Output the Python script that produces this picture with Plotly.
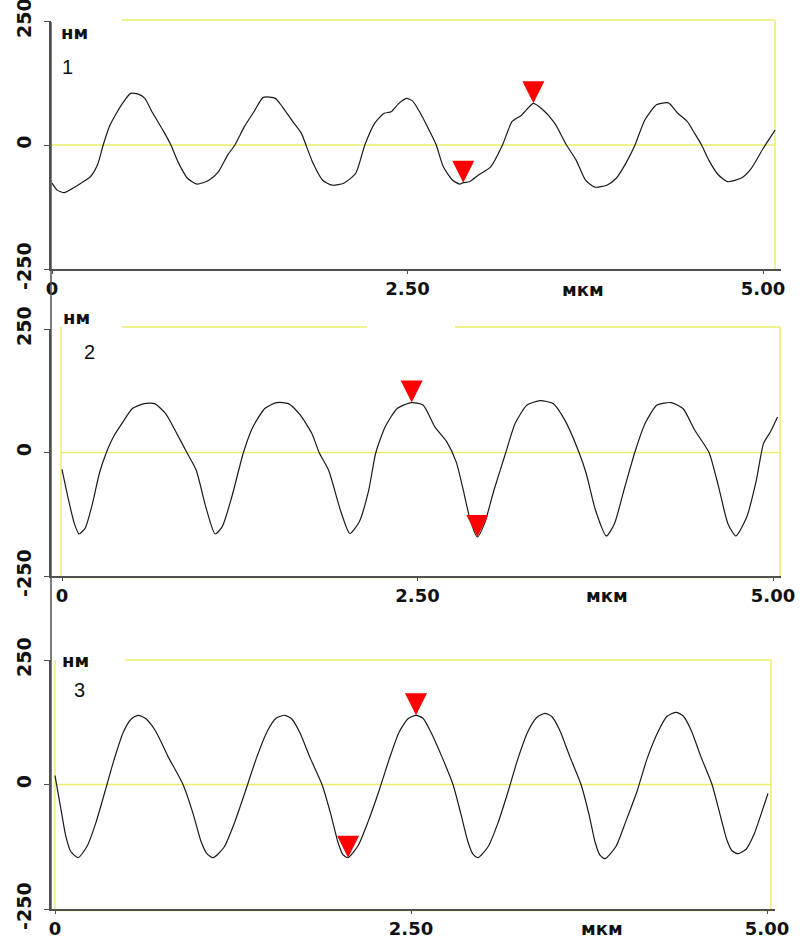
import plotly.graph_objects as go

# ---------------- data ----------------
# Panel 1 profile: position (µm) and height (nm)
x1 = [0.0, 0.036, 0.086, 0.136, 0.203, 0.27, 0.32, 0.36, 0.403, 0.453, 0.503, 0.553, 0.603, 0.653,
      0.703, 0.786, 0.836, 0.886, 0.953, 1.02, 1.103, 1.17, 1.236, 1.286, 1.353, 1.42, 1.486, 1.57,
      1.62, 1.686, 1.753, 1.786, 1.836, 1.903, 1.97, 2.052, 2.136, 2.2, 2.27, 2.336, 2.386, 2.436,
      2.492, 2.535, 2.585, 2.652, 2.702, 2.752, 2.818, 2.868, 2.892, 2.935, 3.002, 3.085, 3.168,
      3.235, 3.302, 3.385, 3.452, 3.535, 3.618, 3.685, 3.752, 3.818, 3.902, 3.968, 4.035, 4.1,
      4.168, 4.251, 4.335, 4.401, 4.468, 4.518, 4.568, 4.618, 4.685, 4.751, 4.851, 4.918, 5.001, 5.085]
y1 = [-77, -91, -96, -89, -77, -64, -40, 0, 37, 64, 87, 104, 103, 94,
      67, 27, 0, -34, -67, -79, -71, -54, -20, 0, 37, 67, 96, 94,
      77, 50, 24, 0, -37, -71, -81, -77, -57, 0, 44, 64, 67, 83,
      94, 89, 67, 30, 0, -44, -71, -79, -76, -74, -60, -44, 0,
      47, 60, 84, 71, 44, 0, -30, -71, -85, -81, -67, -37, 0,
      50, 81, 85, 64, 47, 24, 0, -30, -60, -74, -66, -47, -7, 30]
m1_x = [2.892, 3.385]
m1_y = [-76, 84]

# Panel 2 profile
x2 = [0.0, 0.046, 0.087, 0.12, 0.163, 0.213, 0.263, 0.312, 0.362, 0.429, 0.495, 0.578, 0.651, 0.728,
      0.795, 0.878, 0.944, 1.011, 1.077, 1.127, 1.194, 1.276, 1.343, 1.426, 1.509, 1.592, 1.675,
      1.758, 1.808, 1.875, 1.958, 2.024, 2.091, 2.157, 2.207, 2.273, 2.357, 2.456, 2.539, 2.622,
      2.705, 2.772, 2.822, 2.871, 2.921, 2.971, 3.038, 3.121, 3.187, 3.27, 3.363, 3.453, 3.537,
      3.636, 3.686, 3.752, 3.828, 3.885, 3.952, 4.028, 4.101, 4.184, 4.284, 4.367, 4.45, 4.55,
      4.617, 4.683, 4.739, 4.816, 4.883, 4.933, 4.982, 5.032]
y2 = [-34, -96, -144, -165, -153, -105, -42, 0, 32, 62, 89, 99, 99, 79,
      45, 0, -36, -110, -165, -150, -90, 0, 52, 89, 101, 99, 76,
      38, 0, -36, -117, -164, -140, -76, 0, 52, 89, 101, 96, 52,
      22, -19, -76, -137, -171, -144, -76, 0, 59, 96, 105, 99, 65,
      0, -42, -117, -169, -144, -76, 0, 59, 96, 101, 89, 45, 0,
      -69, -144, -169, -130, -56, 18, 42, 72]
m2_x = [2.459, 2.921]
m2_y = [101, -171]

# Panel 3 profile
x3 = [0.0, 0.042, 0.077, 0.112, 0.162,
      0.225, 0.288, 0.351, 0.414, 0.478, 0.534, 0.583,
      0.639, 0.709, 0.794, 0.899, 0.969, 1.025, 1.067, 1.11,
      1.187, 1.264, 1.334, 1.412, 1.489, 1.552, 1.615,
      1.664, 1.72, 1.791, 1.875, 1.938, 1.987, 2.022, 2.058,
      2.128, 2.198, 2.275, 2.346, 2.416, 2.479, 2.535,
      2.584, 2.64, 2.718, 2.795, 2.851, 2.9, 2.935, 2.971,
      3.041, 3.111, 3.181, 3.251, 3.322, 3.385, 3.441,
      3.49, 3.546, 3.617, 3.694, 3.75, 3.792, 3.827, 3.862,
      3.94, 4.01, 4.087, 4.157, 4.235, 4.298, 4.361,
      4.41, 4.466, 4.537, 4.614, 4.67, 4.719, 4.754, 4.796,
      4.853, 4.909, 4.958, 5.007]
y3 = [18, -50, -105, -135, -147,
      -124, -76, -14, 49, 104, 131, 139,
      132, 106, 56, 0, -58, -114, -139, -147,
      -126, -74, -16, 51, 106, 133, 139,
      131, 104, 54, 0, -61, -116, -141, -147,
      -123, -75, -13, 50, 105, 132, 139,
      133, 105, 55, 0, -60, -115, -140, -147,
      -125, -77, -15, 52, 107, 135, 143,
      136, 108, 55, 0, -60, -115, -142, -149,
      -124, -73, -14, 51, 106, 137, 145,
      138, 110, 55, 0, -60, -112, -133, -139,
      -130, -100, -60, -18]
m3_x = [2.058, 2.535]
m3_y = [-147, 139]

x_tickvals = [0, 2.5, 5.0]
x_ticktext = ["0", "2.50", "5.00"]
y_tickvals = [-250, 0, 250]
y_ticktext = ["-250", "0", "250"]
y_unit = "нм"
x_unit = "мкм"
panel_labels = ["1", "2", "3"]

# ---------------- layout geometry (pixels) ----------------
W, H = 806, 941
def fx(p): return p / W
def fy(p): return 1 - p / H

panels = [
    dict(xs=x1, ys=y1, mx=m1_x, my=m1_y, left=51, right=781, x0=52, ppu=142.2, top=21, bot=269,
         ftop=20, fleft=None, fright=775, fbot=None, segs=[(122, 775)],
         unit_xy=(74, 32), num_xy=(67, 67), xu_xy=(583, 289)),
    dict(xs=x2, ys=y2, mx=m2_x, my=m2_y, left=51, right=781, x0=62, ppu=142.2, top=329, bot=576,
         ftop=327, fleft=61, fright=780, fbot=577.5, segs=[(122, 367), (455, 780)],
         unit_xy=(76, 317), num_xy=(89, 352), xu_xy=(607, 595)),
    dict(xs=x3, ys=y3, mx=m3_x, my=m3_y, left=51, right=775, x0=55, ppu=142.4, top=660, bot=909,
         ftop=660, fleft=55, fright=771, fbot=910.5, segs=[(125, 771)],
         unit_xy=(75, 660), num_xy=(79, 690), xu_xy=(602, 928)),
]

YEL = "#eded6a"
AX = "#505050"
fig = go.Figure()
shapes = []
annotations = []
layout_axes = {}

for i, p in enumerate(panels):
    sfx = "" if i == 0 else str(i + 1)
    xa, ya = "x" + sfx, "y" + sfx
    fig.add_trace(go.Scatter(x=p["xs"], y=p["ys"], mode="lines",
                             line=dict(color="#1a1a1a", width=1.2, shape="spline", smoothing=0.6),
                             xaxis=xa, yaxis=ya, showlegend=False, hoverinfo="skip"))
    fig.add_trace(go.Scatter(x=p["mx"], y=p["my"], mode="markers",
                             marker=dict(symbol="arrow-down", size=22, color="#ff0000",
                                         line=dict(width=0)),
                             xaxis=xa, yaxis=ya, showlegend=False, hoverinfo="skip"))
    xr = [(p["left"] - p["x0"]) / p["ppu"], (p["right"] - p["x0"]) / p["ppu"]]
    layout_axes["xaxis" + sfx] = dict(
        domain=[fx(p["left"]), fx(p["right"])], range=xr, anchor=ya,
        showline=True, linecolor=AX, linewidth=1.5, ticks="outside", ticklen=3,
        tickcolor=AX, tickwidth=1.2, tickvals=x_tickvals, ticktext=x_ticktext,
        ticklabeloverflow="allow",
        tickfont=dict(family="DejaVu Sans", size=18, color="#111", weight="bold"),
        showgrid=False, zeroline=False, automargin=False, fixedrange=True)
    layout_axes["yaxis" + sfx] = dict(
        domain=[fy(p["bot"]), fy(p["top"])], range=[-250, 250], anchor=xa,
        showline=True, linecolor=AX, linewidth=1.5, ticks="outside", ticklen=5,
        tickcolor=AX, tickwidth=1.2, tickvals=y_tickvals, ticktext=y_ticktext,
        tickangle=-90, ticklabelstandoff=6, ticklabeloverflow="allow",
        tickfont=dict(family="DejaVu Sans", size=19, color="#111", weight="bold"),
        showgrid=False, zeroline=False, automargin=False, fixedrange=True)

    # yellow frame
    for a, b in p["segs"]:
        shapes.append(dict(type="line", xref="paper", yref="paper", x0=fx(a), x1=fx(b),
                           y0=fy(p["ftop"]), y1=fy(p["ftop"]), line=dict(color=YEL, width=1.5),
                           layer="below"))
    fl = p["fleft"] if p["fleft"] is not None else p["left"]
    for xx in ([p["fleft"]] if p["fleft"] is not None else []) + [p["fright"]]:
        shapes.append(dict(type="line", xref="paper", yref="paper", x0=fx(xx), x1=fx(xx),
                           y0=fy(p["ftop"]), y1=fy(p["bot"]), line=dict(color=YEL, width=1.5),
                           layer="below"))
    if p["fbot"] is not None:
        shapes.append(dict(type="line", xref="paper", yref="paper", x0=fx(fl), x1=fx(p["fright"]),
                           y0=fy(p["fbot"]), y1=fy(p["fbot"]), line=dict(color=YEL, width=1.5),
                           layer="below"))
    # zero line
    shapes.append(dict(type="line", xref="paper", yref=ya, x0=fx(fl), x1=fx(p["fright"]),
                       y0=0, y1=0, line=dict(color=YEL, width=1.5), layer="below"))

    annotations.append(dict(text=y_unit, xref="paper", yref="paper",
                            x=fx(p["unit_xy"][0]), y=fy(p["unit_xy"][1]),
                            showarrow=False, xanchor="center", yanchor="middle",
                            font=dict(family="DejaVu Sans", size=18, color="#111", weight="bold")))
    annotations.append(dict(text=panel_labels[i], xref="paper", yref="paper",
                            x=fx(p["num_xy"][0]), y=fy(p["num_xy"][1]),
                            showarrow=False, xanchor="center", yanchor="middle",
                            font=dict(family="Liberation Sans", size=20, color="#111")))
    annotations.append(dict(text=x_unit, xref="paper", yref="paper",
                            x=fx(p["xu_xy"][0]), y=fy(p["xu_xy"][1]),
                            showarrow=False, xanchor="center", yanchor="middle",
                            font=dict(family="DejaVu Sans", size=18, color="#111", weight="bold")))

# continuous left axis line
shapes.append(dict(type="line", xref="paper", yref="paper", x0=fx(51), x1=fx(51),
                   y0=fy(22), y1=fy(910), line=dict(color=AX, width=1.5), layer="above"))

fig.update_layout(
    width=W, height=H, autosize=False,
    margin=dict(l=0, r=0, t=0, b=0, pad=0),
    paper_bgcolor="white", plot_bgcolor="white",
    shapes=shapes, annotations=annotations, showlegend=False,
    **layout_axes)

fig.write_html("out.html")
